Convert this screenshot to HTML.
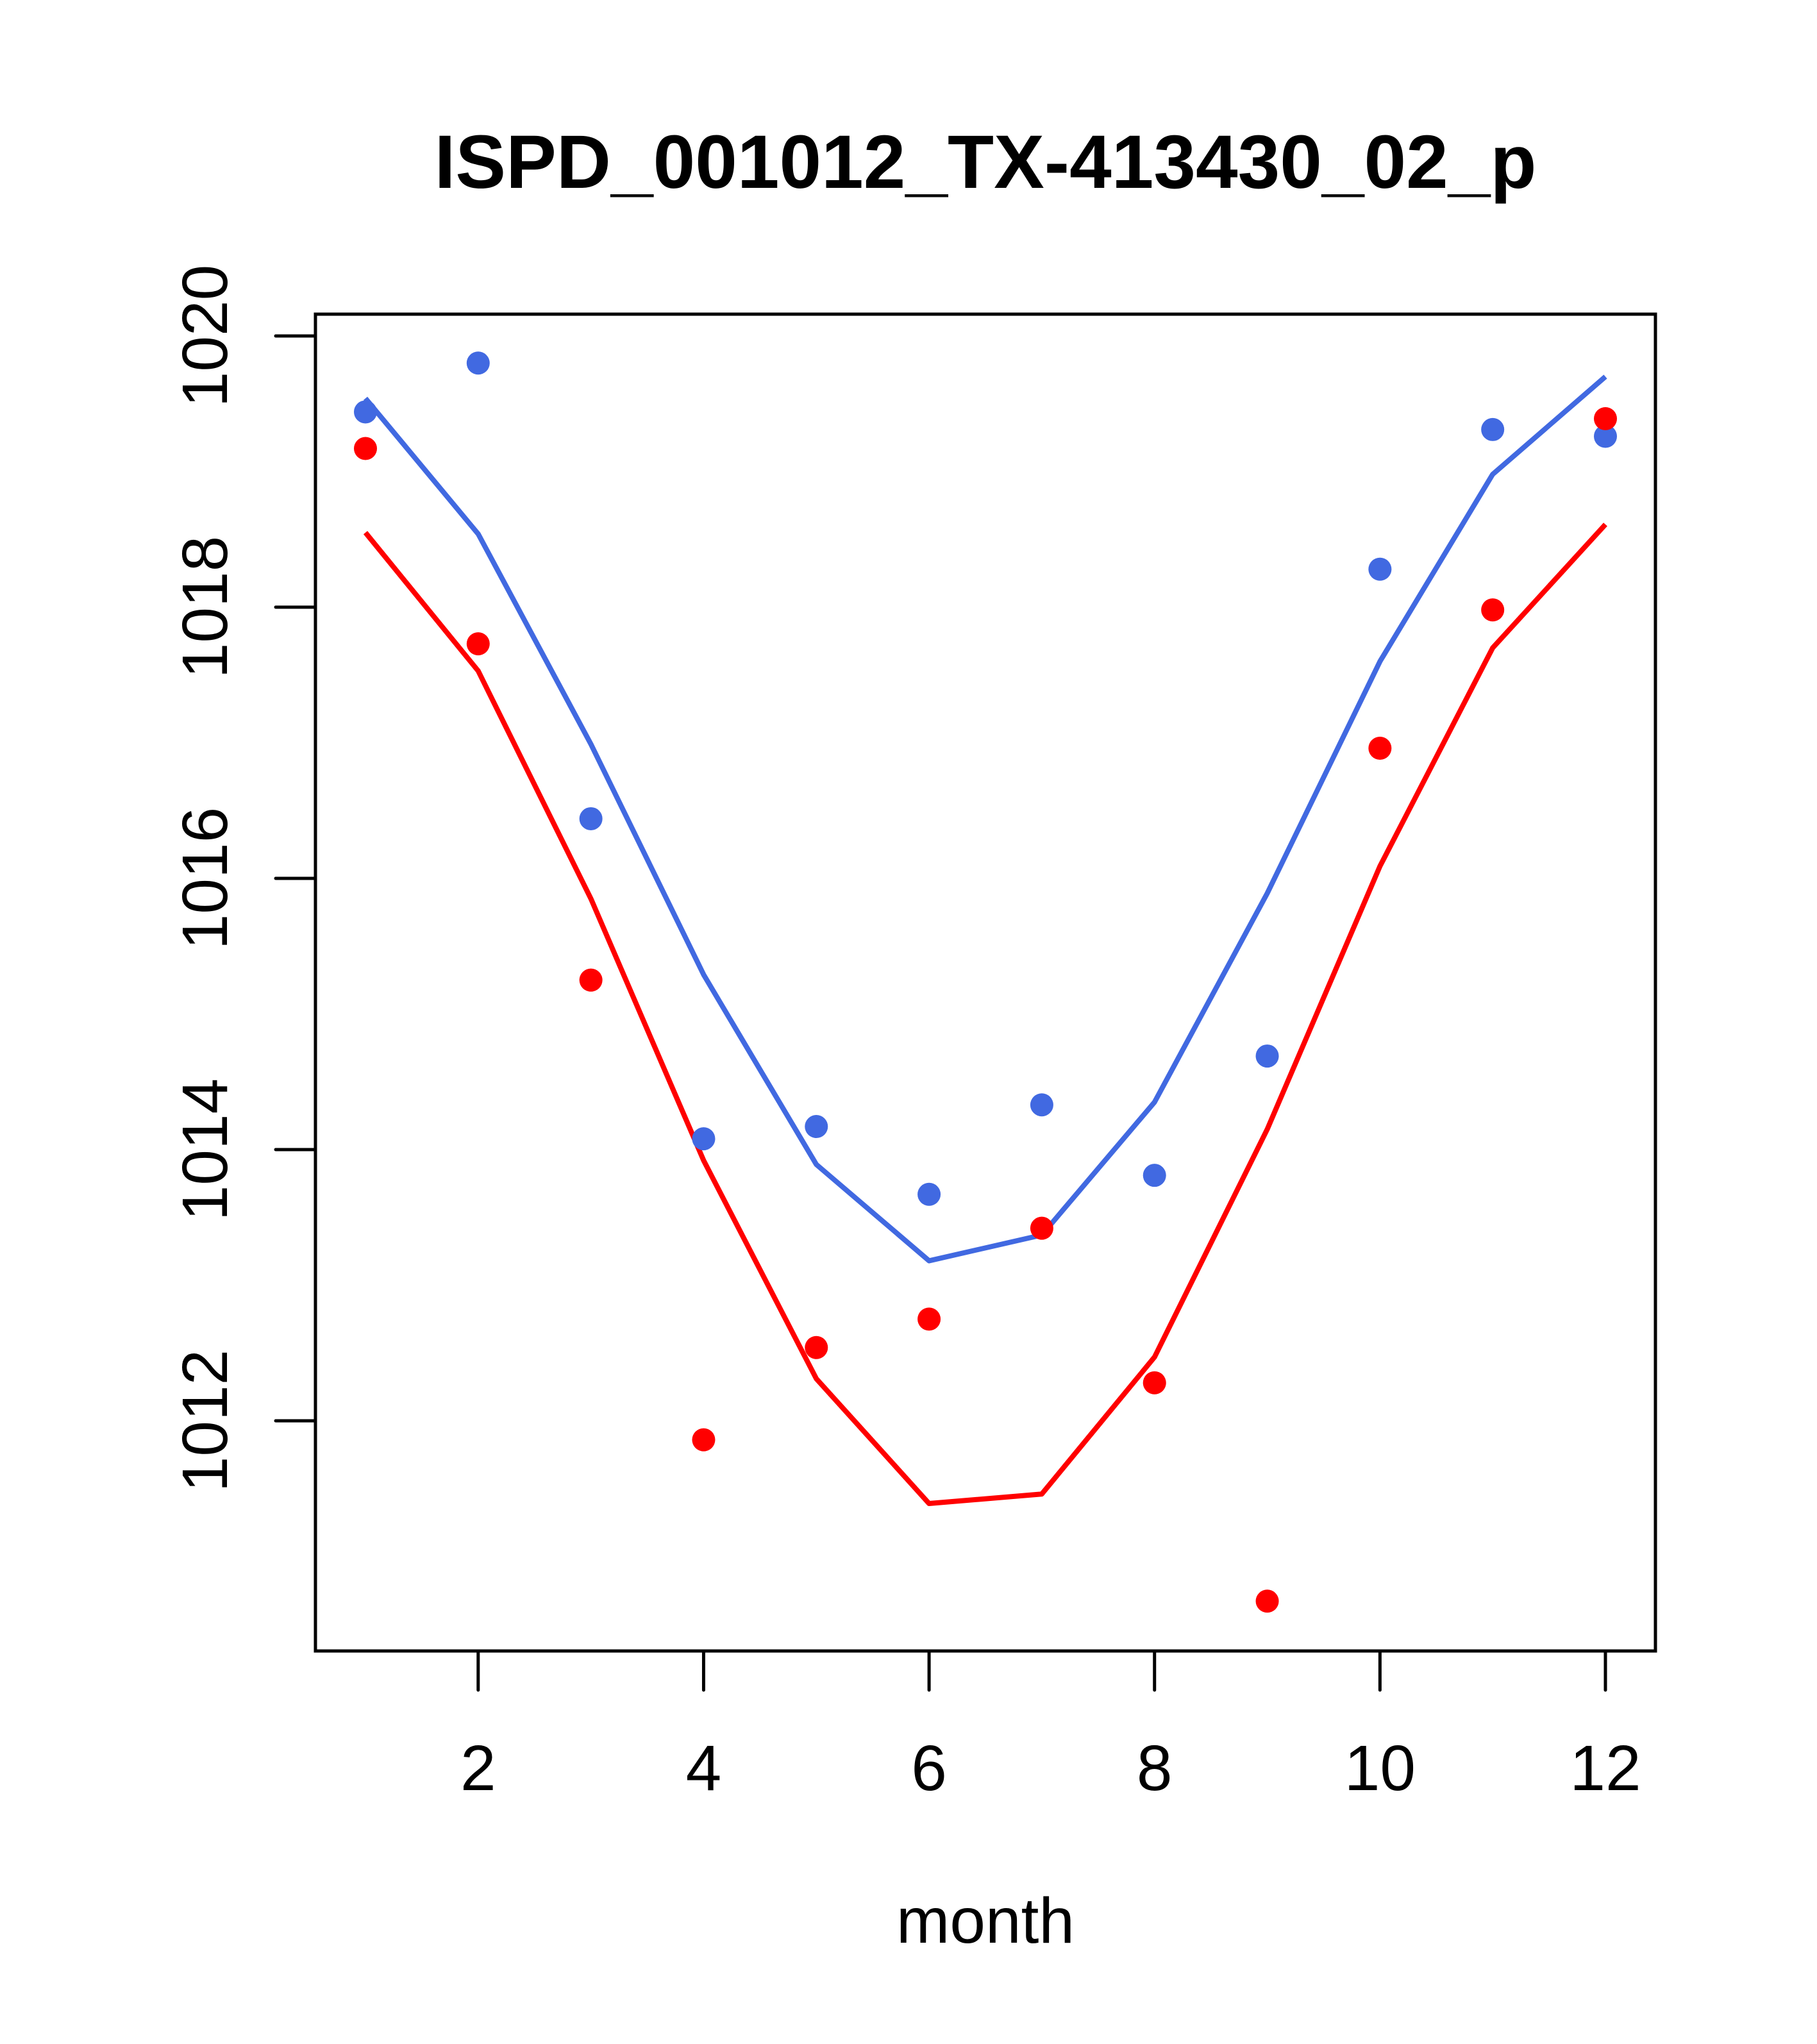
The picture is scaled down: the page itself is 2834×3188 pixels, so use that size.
<!DOCTYPE html>
<html><head><meta charset="utf-8"><style>html,body{margin:0;padding:0;background:#fff}svg{display:block}</style></head>
<body>
<svg id="chart" width="2834" height="3188" viewBox="0 0 2834 3188" xmlns="http://www.w3.org/2000/svg" font-family="Liberation Sans, sans-serif">
<rect width="2834" height="3188" fill="#fff"/>
<text x="1537" y="293" font-size="118" font-weight="bold" text-anchor="middle">ISPD_001012_TX-413430_02_p</text>
<text x="1537" y="3030" font-size="100" text-anchor="middle">month</text>
<g id="marks"></g>
<rect x="492" y="490" width="2090" height="2085" fill="none" stroke="#000" stroke-width="5"/>
</svg>
<script>
const months = [1,2,3,4,5,6,7,8,9,10,11,12];
const bluePoints = [1019.44,1019.80,1016.44,1014.08,1014.17,1013.67,1014.33,1013.81,1014.69,1018.28,1019.31,1019.26];
const redPoints = [1019.17,1017.73,1015.25,1011.86,1012.54,1012.75,1013.42,1012.28,1010.67,1016.96,1017.98,1019.39];
const blueLine = [1019.54,1018.54,1016.99,1015.29,1013.89,1013.18,1013.37,1014.35,1015.89,1017.60,1018.98,1019.70];
const redLine = [1018.55,1017.53,1015.85,1013.92,1012.31,1011.39,1011.46,1012.47,1014.15,1016.09,1017.70,1018.61];
const xTicks = [2,4,6,8,10,12];
const yTicks = [1012,1014,1016,1018,1020];

const NS = 'http://www.w3.org/2000/svg';
function xs(m){ return 570 + (m-1)*(2504-570)/11; }
function ys(v){ return 524 + (1020-v)*(2216-524)/8; }
const g = document.getElementById('marks');
function mk(tag, attrs){ const e=document.createElementNS(NS,tag); for(const k in attrs) e.setAttribute(k,attrs[k]); g.appendChild(e); return e; }

xTicks.forEach(t=>{
  const l = mk('line',{x1:xs(t),x2:xs(t),y1:2575,y2:2636,stroke:'#000','stroke-width':5,'stroke-linecap':'round'});
  
  
  const tx = mk('text',{x:xs(t),y:2792,'font-size':100,'text-anchor':'middle'});
  tx.textContent = t;
  
  
});
yTicks.forEach(t=>{
  const l = mk('line',{x1:430,x2:492,y1:ys(t),y2:ys(t),stroke:'#000','stroke-width':5,'stroke-linecap':'round'});
  
  
  const tx = mk('text',{x:0,y:0,'font-size':100,'text-anchor':'middle',transform:'translate(354,'+ys(t)+') rotate(-90)'});
  tx.textContent = t;
  
  
});
function line(vals,color,name){
  const p = mk('polyline',{points:months.map((m,i)=>xs(m)+','+ys(vals[i])).join(' '),fill:'none',stroke:color,'stroke-width':8,'stroke-linejoin':'round'});
  
  
}
function pts(vals,color,name){
  months.forEach((m,i)=>{
    const c = mk('circle',{cx:xs(m),cy:ys(vals[i]),r:18,fill:color});
    
    
  });
}
line(blueLine,'#4169E1','blue-fit-line');
line(redLine,'#FF0000','red-fit-line');
pts(bluePoints,'#4169E1','blue-point');
pts(redPoints,'#FF0000','red-point');
</script>
</body></html>
